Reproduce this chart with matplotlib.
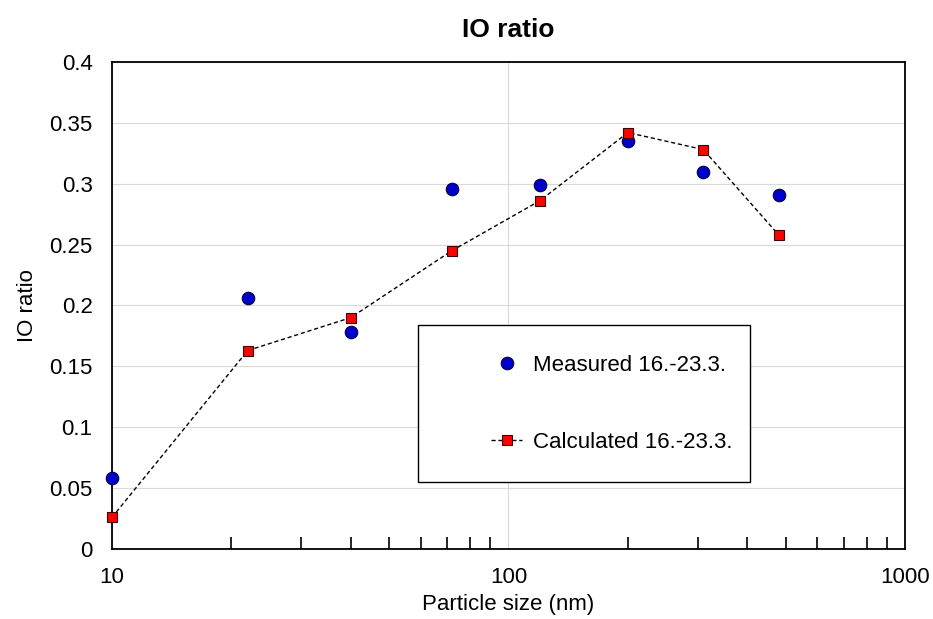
import numpy as np
import matplotlib.pyplot as plt
from matplotlib.patches import Rectangle
from matplotlib.ticker import FixedLocator, NullFormatter, FuncFormatter

plt.rcParams['font.family'] = ['Liberation Sans', 'DejaVu Sans']

size_nm = [10, 22, 40, 72, 120, 200, 310, 480]
measured = [0.058, 0.206, 0.178, 0.296, 0.299, 0.335, 0.310, 0.291]
calculated = [0.026, 0.163, 0.190, 0.245, 0.286, 0.342, 0.328, 0.258]

fig = plt.figure(figsize=(9.33, 6.19), dpi=100)
ax = fig.add_axes([0.120, 0.113, 0.850, 0.787])

ax.plot(size_nm, measured, linestyle='none', marker='o', markersize=9,
        markerfacecolor='#0000cc', markeredgecolor='#000040', markeredgewidth=0.8,
        label='Measured 16.-23.3.', zorder=3, clip_on=False)
ax.plot(size_nm, calculated, linestyle=(0, (3, 2)), color='black', linewidth=1,
        marker='s', markersize=7.5, markerfacecolor='#ff0000',
        markeredgecolor='#400000', markeredgewidth=0.8,
        label='Calculated 16.-23.3.', zorder=3, clip_on=False)

ax.set_xscale('log')
ax.set_xlim(10, 1000)
ax.set_ylim(0, 0.4)
ax.set_yticks(np.arange(0, 0.401, 0.05))
ax.yaxis.set_major_formatter(FuncFormatter(lambda v, p: '%g' % round(v, 2)))
ax.xaxis.set_major_locator(FixedLocator([10, 100, 1000]))
ax.xaxis.set_major_formatter(FuncFormatter(lambda v, p: '%d' % v))
minors = [m * d for d in (10, 100) for m in range(2, 10)]
ax.xaxis.set_minor_locator(FixedLocator(minors))
ax.xaxis.set_minor_formatter(NullFormatter())

ax.tick_params(axis='x', which='major', length=0, labelsize=16, pad=13)
ax.tick_params(axis='x', which='minor', direction='in', length=9, width=1.2, color='black')
ax.tick_params(axis='y', which='major', length=0, labelsize=16, pad=14)

ax.grid(True, which='major', axis='both', color='#d9d9d9', linewidth=0.8)
ax.set_axisbelow(True)
for s in ax.spines.values():
    s.set_color('black')
    s.set_linewidth(1.3)

ax.set_title('IO ratio', fontsize=19, fontweight='bold', pad=18)
ax.set_xlabel('Particle size (nm)', fontsize=16, labelpad=4)
ax.set_ylabel('IO ratio', fontsize=16, labelpad=8)

# legend frame (white box) and entries
ax.add_patch(Rectangle((0.386, 0.138), 0.419, 0.322, transform=ax.transAxes,
                       facecolor='white', edgecolor='black', linewidth=1.0, zorder=4))
leg = ax.legend(loc='center left', bbox_to_anchor=(0.478, 0.298),
                fontsize=16, frameon=False, labelspacing=2.5, borderpad=0,
                handlelength=1.4, handletextpad=0.5, borderaxespad=0)
leg.set_zorder(5)

fig.savefig('out.png', dpi=100)
